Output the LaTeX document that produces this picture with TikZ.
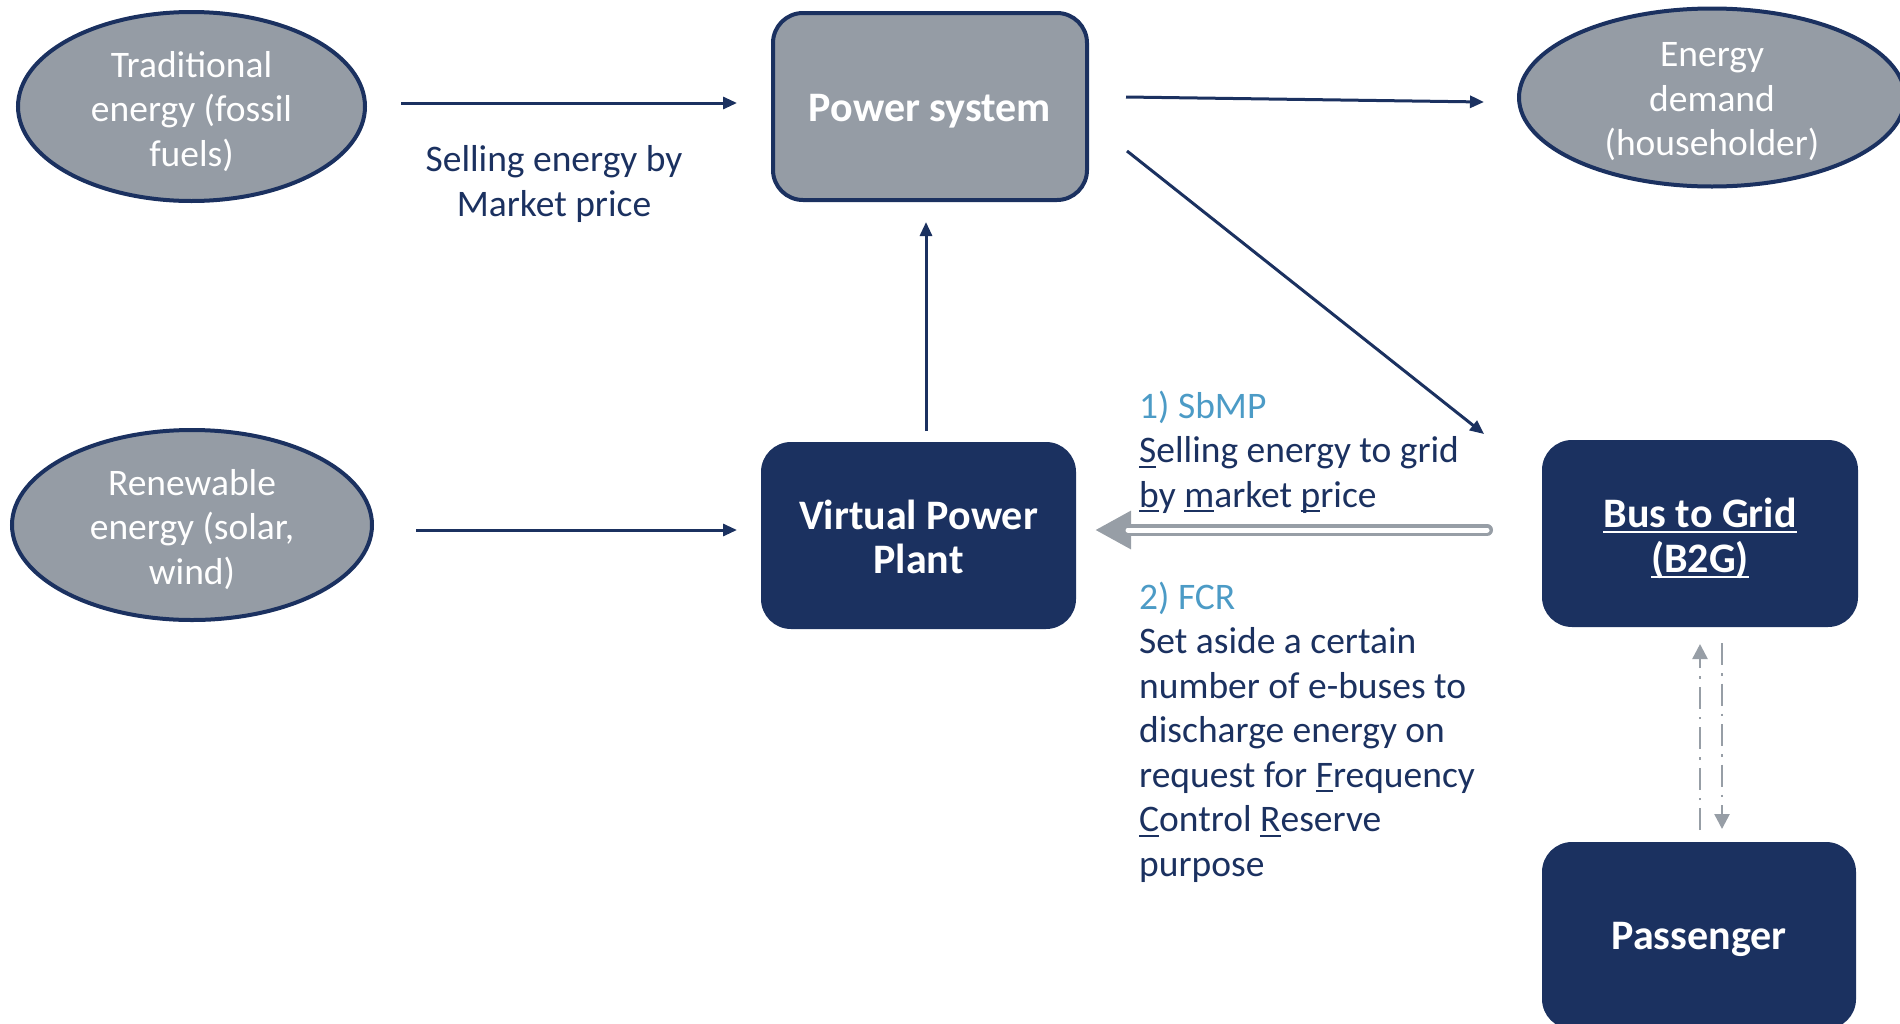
\documentclass[tikz,border=0pt]{standalone}
\usepackage{fontspec}
\setmainfont{Carlito}
\usetikzlibrary{arrows.meta,shapes.geometric}
\definecolor{navy}{HTML}{1B3160}
\definecolor{grayfill}{HTML}{959CA5}
\definecolor{lblue}{HTML}{4C9BC6}
\definecolor{garrow}{HTML}{979EA6}
\newsavebox\myulbox
\newcommand\myul[1]{\sbox\myulbox{#1}\rlap{\rule[-0.13em]{\wd\myulbox}{0.055em}}\usebox\myulbox}
\newcommand\tbc[2]{\raisebox{#1}[0pt][0pt]{\begin{tabular}{@{}c@{}}#2\end{tabular}}}
\newcommand\tbl[1]{\begin{tabular}{@{}l@{}}#1\end{tabular}}
\begin{document}
\begin{tikzpicture}[x=1pt,y=-1pt,
  oval/.style={ellipse,draw=navy,line width=4,fill=grayfill,inner sep=0,text=white,font=\fontsize{37.5}{44.5}\selectfont},
  graybox/.style={rectangle,rounded corners=30,draw=navy,line width=4,fill=grayfill,inner sep=0,minimum width=314,minimum height=187,text=white,font=\bfseries\fontsize{42}{44.5}\selectfont},
  navybox/.style={rectangle,rounded corners=30,fill=navy,inner sep=0,minimum width=315,minimum height=187,text=white,font=\bfseries\fontsize{42}{44.5}\selectfont},
  conn/.style={draw=navy,line width=3,-{Triangle[length=14,width=12]}},
  lbl/.style={text=navy,inner sep=0,font=\fontsize{37.5}{44.5}\selectfont},
  dd/.style={draw=garrow,line width=2.5,dash pattern=on 22 off 8 on 2.5 off 8,-{Triangle[length=15,width=15]}}
]
\path[use as bounding box] (0,0) rectangle (1900,1023);

\node[oval,minimum width=347,minimum height=189] (trad) at (191.5,106.5) {\tbc{-12.8pt}{Traditional\\energy (fossil\\fuels)}};
\node[oval,minimum width=360,minimum height=190] (renew) at (192,525) {\tbc{-12pt}{Renewable\\energy (solar,\\wind)}};
\node[oval,minimum width=386,minimum height=178] (demand) at (1712,97.5) {\tbc{-11pt}{Energy\\demand\\(householder)}};

\node[graybox] (power) at (930,106.5) {\tbc{-12pt}{Power system}};
\node[navybox] (vpp) at (918.5,535.5) {\tbc{-13.5pt}{Virtual Power\\Plant}};
\node[navybox,minimum width=316] (b2g) at (1700,533.5) {\tbc{-14pt}{\myul{Bus to Grid}\\\myul{(B2G)}}};
\node[navybox,minimum width=314] (pass) at (1699,935.5) {\tbc{-11.5pt}{Passenger}};

% connectors
\coordinate (a1s) at (401,103);  \coordinate (a1e) at (737,103);
\draw[conn] (a1s) -- (a1e);
\coordinate (a2s) at (1126,97);  \coordinate (a2e) at (1484,102);
\draw[conn] (a2s) -- (a2e);
\coordinate (a3s) at (1127,151); \coordinate (a3e) at (1484,434);
\draw[conn] (a3s) -- (a3e);
\coordinate (a4s) at (926,431);  \coordinate (a4e) at (926,222);
\draw[conn] (a4s) -- (a4e);
\coordinate (a5s) at (416,530);  \coordinate (a5e) at (737,530);
\draw[conn] (a5s) -- (a5e);

% double arrow B2G -> VPP
\coordinate (dbs) at (1487,530); \coordinate (dbe) at (1095,530);
\draw[draw=garrow,line width=12,line cap=round,-{Triangle[length=36,width=36]}] (dbs) -- (dbe);
\draw[white,line width=5,line cap=round,shorten >=33] (dbs) -- (dbe);

% dash-dot arrows
\coordinate (u1s) at (1700,830); \coordinate (u1e) at (1700,644);
\draw[dd] (u1s) -- (u1e);
\coordinate (d1s) at (1722,643); \coordinate (d1e) at (1722,829);
\draw[dd] (d1s) -- (d1e);

% labels
\node[lbl] (sell) at (554,180) {\tbc{-11.5pt}{Selling energy by\\Market price}};
\node[lbl,anchor=north west] (sbmp) at (1139,387) {\tbl{\textcolor{lblue}{1) SbMP}\\\myul{S}elling energy to grid\\\myul{b}y \myul{m}arket \myul{p}rice}};
\node[lbl,anchor=north west] (fcr) at (1139,578) {\tbl{\textcolor{lblue}{2) FCR}\\Set aside a certain\\number of e-buses to\\discharge energy on\\request for \myul{F}requency\\\myul{C}ontrol \myul{R}eserve\\purpose}};
\end{tikzpicture}
\end{document}
